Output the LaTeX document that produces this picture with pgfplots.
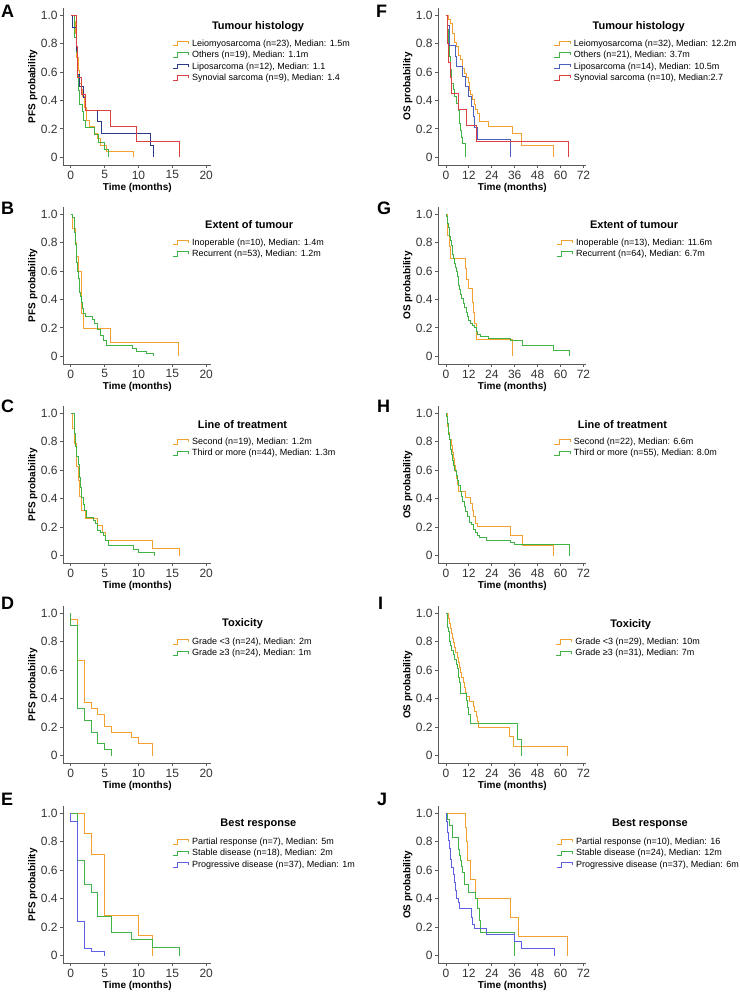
\documentclass[border=0pt]{standalone}
\usepackage{fontspec}
\setmainfont{Liberation Sans}
\usepackage{pgfplots}
\pgfplotsset{compat=1.18}

\definecolor{kmorange}{RGB}{243,160,50}
\definecolor{kmgreen}{RGB}{65,178,70}
\definecolor{kmnavy}{RGB}{45,58,140}
\definecolor{kmblue}{RGB}{75,95,195}
\definecolor{kmred}{RGB}{220,65,65}
\definecolor{kmviolet}{RGB}{95,95,225}
\definecolor{axgray}{RGB}{90,90,90}

\newcommand\tf{\fontsize{12}{13}\selectfont}
\newcommand\labfont{\bfseries\fontsize{10}{12}\selectfont}
\newcommand\lf{\fontsize{9}{10}\selectfont}
\newcommand\titfont{\bfseries\fontsize{11}{12}\selectfont}

\tikzset{ltitle/.style={font=\titfont, anchor=center}}

\pgfplotsset{
  km/.style={
    scale only axis, width=148pt, height=157pt,
    axis lines*=left, clip=false,
    axis line style={axgray, line width=0.8pt},
    ymin=-0.054, ymax=1.05,
    ytick={0,0.2,0.4,0.6,0.8,1.0},
    yticklabels={\tf 0,\tf 0.2,\tf 0.4,\tf 0.6,\tf 0.8,\tf 1.0},
    tick align=outside, major tick length=3pt,
    tick style={axgray, line width=0.8pt},
    xticklabel style={text=black!80, inner sep=2.5pt},
    yticklabel style={text=black!80, inner sep=2.5pt},
    every axis x label/.style={at={(axis description cs:0.5,-0.145)}, anchor=center, font=\labfont},
    every axis y label/.style={at={(axis description cs:-0.207,0.5)}, rotate=90, anchor=center, font=\labfont},
    xlabel={Time (months)},
    legend style={draw=none, fill=none, inner sep=0pt, anchor=north west,
      row sep=3pt, column sep=3pt,
      nodes={inner sep=0pt, text height=6.5pt, text depth=2pt}},
    legend cell align=left,
    legend image code/.code={\draw[##1, line width=1pt] (0pt,-2pt) -- (5pt,-2pt) -- (5pt,2.5pt) -- (16pt,2.5pt) -- (16pt,0pt);},
  },
  pfs/.style={km, xmin=-1.1, xmax=20.75, xtick={0,5,10,15,20},
    xticklabels={\tf 0,\tf 5,\tf 10,\tf 15,\tf 20}, ylabel={PFS probability}},
  os/.style={km, xmin=-4, xmax=73.5, xtick={0,12,24,36,48,60,72},
    xticklabels={\tf 0,\tf 12,\tf 24,\tf 36,\tf 48,\tf 60,\tf 72}, ylabel={OS probability}},
  kmline/.style={const plot, line width=0.75pt},
}

\begin{document}
\begin{tikzpicture}
\useasboundingbox (0pt,0pt) rectangle (739pt,-992pt);

% panel letters
\foreach \l/\x/\y in {A/1/5, B/1/202, C/1/400, D/1/597, E/1/793, F/376/5, G/377/202, H/377/400, I/378/597, J/377/793}
  \node[anchor=north west, inner sep=0pt, font=\bfseries\fontsize{18}{18}\selectfont] at (\x pt,-\y pt) {\l};

% ---------------- A
\begin{axis}[pfs, at={(63.3pt,-165pt)}, anchor=south west,
  legend style={at={(axis description cs:0.734,0.80)}}]
\addplot[kmline, kmorange] coordinates {(0,1) (0.5,0.957) (0.7,0.87) (0.9,0.70) (1.1,0.61) (1.3,0.52) (1.5,0.48) (1.7,0.43) (2.0,0.35) (2.3,0.26) (2.8,0.22) (3.5,0.17) (3.9,0.13) (4.3,0.087) (5.3,0.043) (9.2,0)};
\addlegendentry{\lf Leiomyosarcoma (n=23), Median: 1.5m}
\addplot[kmline, kmgreen] coordinates {(0,1) (0.6,0.84) (0.8,0.74) (1.0,0.58) (1.1,0.47) (1.3,0.37) (1.7,0.32) (1.9,0.26) (2.1,0.21) (3.5,0.16) (4.1,0.105) (4.9,0.053) (5.5,0)};
\addlegendentry{\lf Others (n=19), Median: 1.1m}
\addplot[kmline, kmnavy] coordinates {(0,1) (0.2,0.917) (0.8,0.75) (1.0,0.58) (1.2,0.50) (1.8,0.42) (2.2,0.33) (3.9,0.25) (4.5,0.167) (11.8,0.083) (12.2,0)};
\addlegendentry{\lf Liposarcoma (n=12), Median: 1.1}
\addplot[kmline, kmred] coordinates {(0,1) (0.8,0.78) (1.0,0.56) (1.5,0.44) (2.2,0.33) (5.8,0.22) (9.7,0.11) (16.1,0)};
\addlegendentry{\lf Synovial sarcoma (n=9), Median: 1.4}
\node[ltitle] at (axis description cs:1.316,0.879) {Tumour histology};
\end{axis}

% ---------------- B
\begin{axis}[pfs, at={(63.3pt,-364pt)}, anchor=south west,
  legend style={at={(axis description cs:0.734,0.80)}}]
\addplot[kmline, kmorange] coordinates {(0,1) (0.3,0.9) (0.7,0.8) (0.9,0.7) (1.1,0.6) (1.5,0.3) (1.8,0.2) (5.9,0.1) (15.9,0)};
\addlegendentry{\lf Inoperable (n=10), Median: 1.4m}
\addplot[kmline, kmgreen] coordinates {(0,1) (0.2,0.98) (0.5,0.96) (0.6,0.87) (0.7,0.79) (0.8,0.72) (0.9,0.66) (1.0,0.60) (1.1,0.55) (1.2,0.49) (1.3,0.45) (1.4,0.42) (1.5,0.38) (1.7,0.34) (1.9,0.30) (2.2,0.28) (3.2,0.26) (3.5,0.23) (3.9,0.19) (4.4,0.15) (4.8,0.11) (5.3,0.075) (9.1,0.057) (9.7,0.038) (11.2,0.019) (12.2,0)};
\addlegendentry{\lf Recurrent (n=53), Median: 1.2m}
\node[ltitle] at (axis description cs:1.256,0.885) {Extent of tumour};
\end{axis}

% ---------------- C
\begin{axis}[pfs, at={(63.3pt,-563.3pt)}, anchor=south west,
  legend style={at={(axis description cs:0.734,0.80)}}]
\addplot[kmline, kmorange] coordinates {(0,1) (0.2,0.895) (0.6,0.79) (0.8,0.68) (0.9,0.63) (1.1,0.53) (1.3,0.42) (1.5,0.32) (2.2,0.26) (3.9,0.21) (4.7,0.16) (5.1,0.105) (12.0,0.053) (16.1,0)};
\addlegendentry{\lf Second (n=19), Median: 1.2m}
\addplot[kmline, kmgreen] coordinates {(0,1) (0.6,0.86) (0.7,0.77) (0.9,0.70) (1.1,0.64) (1.2,0.55) (1.4,0.48) (1.6,0.41) (1.8,0.36) (2.0,0.32) (2.3,0.27) (3.4,0.25) (3.7,0.23) (4.0,0.18) (4.4,0.16) (4.8,0.14) (5.1,0.11) (5.6,0.07) (9.3,0.045) (10.0,0.023) (12.3,0)};
\addlegendentry{\lf Third or more (n=44), Median: 1.3m}
\node[ltitle] at (axis description cs:1.211,0.881) {Line of treatment};
\end{axis}

% ---------------- D
\begin{axis}[pfs, at={(63.3pt,-763.3pt)}, anchor=south west,
  legend style={at={(axis description cs:0.734,0.80)}}]
\addplot[kmline, kmorange] coordinates {(0,1) (0,0.958) (1,0.667) (2,0.375) (3,0.333) (4,0.292) (5,0.208) (6,0.167) (9,0.125) (10,0.083) (12,0)};
\addlegendentry{\lf Grade <3 (n=24), Median: 2m}
\addplot[kmline, kmgreen] coordinates {(0,1) (0,0.917) (1,0.333) (2,0.25) (3,0.167) (4,0.083) (5,0.042) (6,0)};
\addlegendentry{\lf Grade ≥3 (n=24), Median: 1m}
\node[ltitle] at (axis description cs:1.211,0.887) {Toxicity};
\end{axis}

% ---------------- E
\begin{axis}[pfs, at={(63.3pt,-963.3pt)}, anchor=south west,
  legend style={at={(axis description cs:0.734,0.80)}}]
\addplot[kmline, kmorange] coordinates {(0,1) (2,0.857) (3,0.714) (5,0.286) (10,0.143) (12,0)};
\addlegendentry{\lf Partial response (n=7), Median: 5m}
\addplot[kmline, kmgreen] coordinates {(0,1) (1,0.667) (2,0.5) (3,0.444) (4,0.278) (6,0.167) (9,0.111) (12,0.056) (16,0)};
\addlegendentry{\lf Stable disease (n=18), Median: 2m}
\addplot[kmline, kmviolet] coordinates {(0,1) (0,0.946) (1,0.243) (2,0.054) (3,0.027) (5,0)};
\addlegendentry{\lf Progressive disease (n=37), Median: 1m}
\node[ltitle] at (axis description cs:1.318,0.887) {Best response};
\end{axis}

% ---------------- F
\begin{axis}[os, at={(438.3pt,-165pt)}, anchor=south west,
  legend style={at={(axis description cs:0.779,0.80)}}]
\addplot[kmline, kmorange] coordinates {(0,1) (1.5,0.97) (2.5,0.94) (3.5,0.875) (4.5,0.81) (5.5,0.78) (6.5,0.72) (7.5,0.69) (8.5,0.625) (9.5,0.59) (10.5,0.56) (11.5,0.53) (12.2,0.47) (13,0.44) (14,0.41) (15,0.375) (15.5,0.34) (16.5,0.31) (17.5,0.25) (22,0.22) (35,0.17) (39.7,0.085) (56.3,0)};
\addlegendentry{\lf Leiomyosarcoma (n=32), Median: 12.2m}
\addplot[kmline, kmgreen] coordinates {(0,1) (0.8,0.90) (1.3,0.81) (1.8,0.71) (2.2,0.62) (3.0,0.52) (3.7,0.48) (4.5,0.43) (5.5,0.38) (6.3,0.33) (6.9,0.24) (7.5,0.19) (8.3,0.14) (8.8,0.10) (10.0,0)};
\addlegendentry{\lf Others (n=21), Median: 3.7m}
\addplot[kmline, kmblue] coordinates {(0,1) (0.7,0.93) (2.0,0.79) (4.8,0.71) (5.5,0.64) (8.5,0.57) (10.0,0.50) (11.5,0.43) (13.5,0.36) (14.5,0.29) (15.0,0.21) (16.4,0.125) (33.9,0)};
\addlegendentry{\lf Liposarcoma (n=14), Median: 10.5m}
\addplot[kmline, kmred] coordinates {(0,1) (0.5,0.9) (1.0,0.8) (1.5,0.67) (2.2,0.56) (2.6,0.45) (6.5,0.34) (10.8,0.225) (16.1,0.11) (64.2,0)};
\addlegendentry{\lf Synovial sarcoma (n=10), Median:2.7}
\node[ltitle] at (axis description cs:1.354,0.881) {Tumour histology};
\end{axis}

% ---------------- G
\begin{axis}[os, at={(438.3pt,-364pt)}, anchor=south west,
  legend style={at={(axis description cs:0.795,0.80)}}]
\addplot[kmline, kmorange] coordinates {(0,1) (0.5,0.92) (1.0,0.85) (1.7,0.77) (2.3,0.69) (10.2,0.62) (10.8,0.54) (11.5,0.48) (13.8,0.38) (14.3,0.31) (14.8,0.23) (15.7,0.12) (35,0)};
\addlegendentry{\lf Inoperable (n=13), Median: 11.6m}
\addplot[kmline, kmgreen] coordinates {(0,1) (0.3,0.984) (0.6,0.969) (1.0,0.938) (1.3,0.906) (1.7,0.875) (2.0,0.844) (2.4,0.812) (2.8,0.781) (3.2,0.75) (3.6,0.719) (4.0,0.688) (4.5,0.656) (5.0,0.625) (5.4,0.594) (5.8,0.562) (6.3,0.531) (6.7,0.50) (7.2,0.469) (7.7,0.438) (8.3,0.406) (9.0,0.375) (9.6,0.344) (10.5,0.312) (11.3,0.281) (12.0,0.25) (13.0,0.234) (14.0,0.219) (15.0,0.203) (15.8,0.172) (16.5,0.156) (18.0,0.141) (22.0,0.125) (34.0,0.109) (40.0,0.078) (56.0,0.039) (64.5,0)};
\addlegendentry{\lf Recurrent (n=64), Median: 6.7m}
\node[ltitle] at (axis description cs:1.323,0.885) {Extent of tumour};
\end{axis}

% ---------------- H
\begin{axis}[os, at={(438.3pt,-563.3pt)}, anchor=south west,
  legend style={at={(axis description cs:0.779,0.80)}}]
\addplot[kmline, kmorange] coordinates {(0,1) (0.5,0.955) (1.0,0.91) (1.5,0.864) (2.0,0.818) (2.6,0.773) (3.2,0.727) (3.8,0.682) (4.5,0.636) (5.0,0.591) (5.5,0.545) (6.0,0.50) (6.6,0.455) (10.0,0.41) (12.8,0.364) (13.6,0.318) (14.5,0.273) (15.5,0.227) (16.5,0.205) (33.5,0.14) (40.0,0.07) (56.5,0)};
\addlegendentry{\lf Second (n=22), Median: 6.6m}
\addplot[kmline, kmgreen] coordinates {(0,1) (0.3,0.982) (0.6,0.964) (0.8,0.927) (1.1,0.891) (1.4,0.855) (1.7,0.818) (2.1,0.782) (2.5,0.745) (2.9,0.709) (3.4,0.673) (3.9,0.636) (4.5,0.60) (5.2,0.564) (5.9,0.527) (6.6,0.491) (7.3,0.455) (8.0,0.418) (8.8,0.382) (9.5,0.345) (10.3,0.309) (11.2,0.273) (12.2,0.236) (13.3,0.218) (14.2,0.182) (15.5,0.164) (16.5,0.145) (17.5,0.127) (21.0,0.109) (34.0,0.091) (36.0,0.076) (64.5,0)};
\addlegendentry{\lf Third or more (n=55), Median: 8.0m}
\node[ltitle] at (axis description cs:1.244,0.885) {Line of treatment};
\end{axis}

% ---------------- I
\begin{axis}[os, at={(438.3pt,-763.3pt)}, anchor=south west,
  legend style={at={(axis description cs:0.79,0.80)}}]
\addplot[kmline, kmorange] coordinates {(0,1) (1.2,0.966) (1.8,0.931) (2.3,0.897) (2.8,0.862) (3.3,0.828) (3.8,0.793) (4.2,0.759) (5.0,0.724) (5.8,0.69) (6.6,0.655) (7.2,0.621) (7.8,0.586) (8.3,0.552) (8.9,0.517) (9.5,0.483) (10.2,0.448) (10.8,0.414) (12.5,0.379) (14.5,0.345) (15.0,0.31) (15.7,0.276) (16.3,0.241) (17.0,0.20) (33.2,0.133) (35.3,0.067) (63.8,0)};
\addlegendentry{\lf Grade <3 (n=29), Median: 10m}
\addplot[kmline, kmgreen] coordinates {(0,1) (0.7,0.903) (1.3,0.871) (1.6,0.806) (2.2,0.774) (2.7,0.742) (3.8,0.71) (4.3,0.677) (5.6,0.645) (6.0,0.613) (6.3,0.581) (6.6,0.548) (7.0,0.516) (7.3,0.484) (7.7,0.435) (10.5,0.387) (11.0,0.338) (11.6,0.29) (12.6,0.23) (37.6,0.115) (39.7,0)};
\addlegendentry{\lf Grade ≥3 (n=31), Median: 7m}
\node[ltitle] at (axis description cs:1.30,0.885) {Toxicity};
\end{axis}

% ---------------- J
\begin{axis}[os, at={(438.3pt,-963.3pt)}, anchor=south west,
  legend style={at={(axis description cs:0.795,0.80)}}]
\addplot[kmline, kmorange] coordinates {(0,1) (10.0,0.9) (10.8,0.8) (11.2,0.667) (12.6,0.533) (15.5,0.40) (33.6,0.267) (37.9,0.133) (63.8,0)};
\addlegendentry{\lf Partial response (n=10), Median: 16}
\addplot[kmline, kmgreen] coordinates {(0,1) (0.7,0.958) (1.7,0.917) (3.5,0.833) (6.5,0.75) (7.0,0.708) (7.5,0.667) (8.0,0.625) (8.5,0.583) (9.4,0.50) (11.7,0.444) (15.5,0.40) (16.5,0.333) (17.5,0.25) (18.2,0.167) (35.8,0)};
\addlegendentry{\lf Stable disease (n=24), Median: 12m}
\addplot[kmline, kmviolet] coordinates {(0,1) (0.3,0.946) (0.7,0.865) (1.5,0.811) (2.0,0.757) (2.5,0.676) (3.0,0.622) (3.8,0.568) (4.5,0.514) (5.0,0.459) (5.6,0.405) (6.3,0.378) (7.0,0.333) (13.5,0.27) (14.0,0.22) (15.0,0.19) (21.0,0.15) (36.0,0.10) (39.7,0.05) (56.8,0)};
\addlegendentry{\lf Progressive disease (n=37), Median: 6m}
\node[ltitle] at (axis description cs:1.43,0.887) {Best response};
\end{axis}
\end{tikzpicture}
\end{document}
